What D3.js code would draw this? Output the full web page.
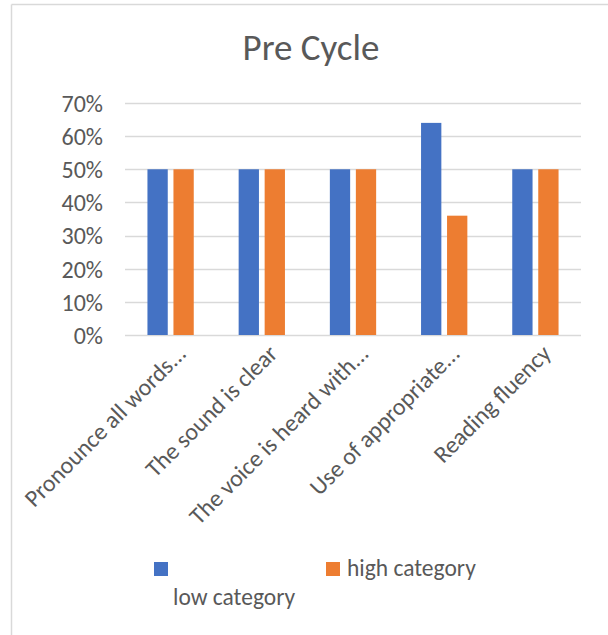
<!DOCTYPE html>
<html>
<head>
<meta charset="utf-8">
<script src="https://cdn.jsdelivr.net/npm/d3@7"></script>
<style>
  body { margin: 0; background: #fff; }
  svg { display: block; font-family: Carlito, Calibri, "Open Sans", sans-serif; }
</style>
</head>
<body>
<svg id="chart" width="608" height="635"></svg>
<script>
var categories = ["Pronounce all words...", "The sound is clear", "The voice is heard with...", "Use of appropriate...", "Reading fluency"];
var seriesNames = ["low category", "high category"];
var lowValues = [0.50, 0.50, 0.50, 0.64, 0.50];
var highValues = [0.50, 0.50, 0.50, 0.36, 0.50];
var yTicks = [0, 0.1, 0.2, 0.3, 0.4, 0.5, 0.6, 0.7];
var colors = ["#4472C4", "#ED7D31"];

var svg = d3.select("#chart");
var plotLeft = 125, plotRight = 581, plotTop = 103, plotBottom = 335;
var textColor = "#595959";

// frame (only top and left edges show)
svg.append("line").attr("x1", 11.5).attr("x2", 608).attr("y1", 4.5).attr("y2", 4.5)
  .attr("stroke", "#d9d9d9").attr("stroke-width", 1.5);
svg.append("line").attr("x1", 11.5).attr("x2", 11.5).attr("y1", 4.5).attr("y2", 635)
  .attr("stroke", "#d9d9d9").attr("stroke-width", 1.5);

svg.append("text")
  .attr("x", 311).attr("y", 60)
  .attr("text-anchor", "middle")
  .attr("font-size", 37)
  .attr("fill", textColor)
  .text("Pre Cycle");

var x = d3.scaleBand().domain(categories).range([plotLeft, plotRight]);
var y = d3.scaleLinear().domain([0, 0.7]).range([plotBottom, plotTop]);

// gridlines
svg.append("g").selectAll("line")
  .data(yTicks)
  .enter()
  .append("line")
  .attr("x1", plotLeft).attr("x2", plotRight)
  .attr("y1", function(d){ return Math.round(y(d)) + 0.5; })
  .attr("y2", function(d){ return Math.round(y(d)) + 0.5; })
  .attr("stroke", "#d9d9d9").attr("stroke-width", 1.5);

// y labels
var yAxis = svg.append("g")
  .attr("transform", "translate(" + (plotLeft - 22) + ",0)")
  .call(d3.axisLeft(y).tickValues(yTicks).tickFormat(d3.format(".0%")).tickSize(0).tickPadding(0));
yAxis.select(".domain").remove();
yAxis.selectAll("text")
  .attr("font-size", 24)
  .attr("fill", textColor)
  .attr("font-family", "Carlito, Calibri, 'Open Sans', sans-serif")
  .attr("dy", "0.35em");

// bars
var barW = 20.3, gap = 5.7;
var data = [];
categories.forEach(function(c, i){
  data.push({cat: c, s: 0, v: lowValues[i]});
  data.push({cat: c, s: 1, v: highValues[i]});
});
svg.append("g").selectAll("rect")
  .data(data)
  .enter()
  .append("rect")
  .attr("x", function(d){
    var center = x(d.cat) + x.bandwidth() / 2;
    return d.s === 0 ? center - gap / 2 - barW : center + gap / 2;
  })
  .attr("y", function(d){ return y(d.v); })
  .attr("width", barW)
  .attr("height", function(d){ return plotBottom - y(d.v); })
  .attr("fill", function(d){ return colors[d.s]; });

// x labels rotated
svg.append("g").selectAll("text")
  .data(categories)
  .enter()
  .append("text")
  .attr("transform", function(d){
    var cx = x(d) + x.bandwidth() / 2 + 17;
    return "translate(" + cx + "," + (plotBottom + 20) + ") rotate(-45)";
  })
  .attr("text-anchor", "end")
  .attr("font-size", 24)
  .attr("fill", textColor)
  .text(function(d){ return d; });

// legend
var legend = svg.append("g");
legend.append("rect").attr("x", 154).attr("y", 562).attr("width", 14).attr("height", 14).attr("fill", colors[0]);
legend.append("text").attr("x", 173).attr("y", 605).attr("font-size", 23.5).attr("fill", textColor).text(seriesNames[0]);
legend.append("rect").attr("x", 326).attr("y", 562).attr("width", 14).attr("height", 14).attr("fill", colors[1]);
legend.append("text").attr("x", 347).attr("y", 576).attr("font-size", 23.5).attr("fill", textColor).text(seriesNames[1]);
</script>
</body>
</html>
